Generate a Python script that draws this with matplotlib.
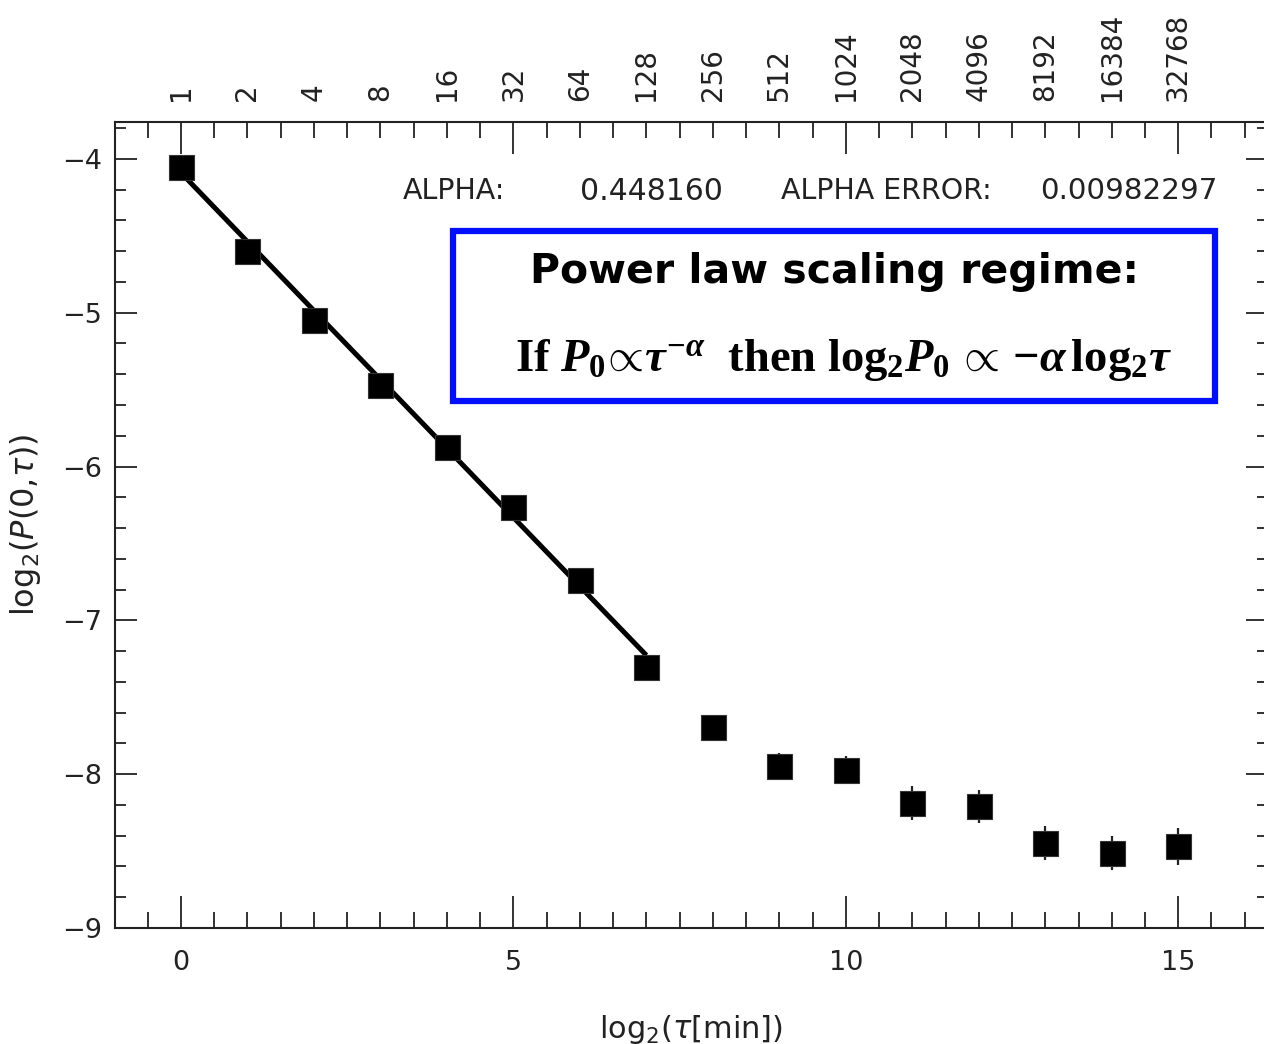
import numpy as np
import matplotlib
matplotlib.use("Agg")
import matplotlib.pyplot as plt
from matplotlib.patches import Rectangle
from matplotlib.ticker import MultipleLocator, FixedLocator

# ---- data ----
log2_tau = [0, 1, 2, 3, 4, 5, 6, 7, 8, 9, 10, 11, 12, 13, 14, 15]
log2_P = [-4.05, -4.60, -5.05, -5.47, -5.87, -6.26, -6.74, -7.30,
          -7.69, -7.95, -7.97, -8.19, -8.21, -8.45, -8.51, -8.47]
log2_P_err = [0.02, 0.02, 0.02, 0.03, 0.03, 0.03, 0.04, 0.05,
              0.07, 0.09, 0.09, 0.11, 0.11, 0.11, 0.11, 0.12]
fit_range = [0, 7]
alpha = 0.448160
alpha_err = 0.00982297
fit_intercept = -4.09
top_labels = [str(2 ** i) for i in log2_tau]

plt.rcParams['mathtext.rm'] = 'Liberation Serif:bold'
plt.rcParams['mathtext.it'] = 'Liberation Serif:bold:italic'
plt.rcParams['mathtext.bf'] = 'Liberation Serif:bold'

W, H = 1264, 1044
fig = plt.figure(figsize=(W / 100, H / 100), dpi=100)
left_px, right_px, top_px, bot_px = 114.5, 1268, 122, 928
ax = fig.add_axes([left_px / W, 1 - bot_px / H, (right_px - left_px) / W, (bot_px - top_px) / H])

ink = '#222222'

# fit line
xf = np.array(fit_range, dtype=float)
ax.plot(xf, fit_intercept - alpha * xf, color='black', lw=3.6, solid_capstyle='butt', zorder=2)

# data points
ax.errorbar(log2_tau, log2_P, yerr=log2_P_err, fmt='s', color='black', ms=18,
            mec='#333333', mew=0.8, ecolor='#222222', elinewidth=1.6, capsize=0, zorder=3)

ax.set_xlim(-1, 16.35)
ax.set_ylim(-9, -3.76)

ax.xaxis.set_major_locator(MultipleLocator(5))
ax.xaxis.set_minor_locator(MultipleLocator(0.5))
ax.yaxis.set_major_locator(MultipleLocator(1))
ax.yaxis.set_minor_locator(MultipleLocator(0.2))

ax.tick_params(axis='x', which='major', direction='in', top=True, bottom=True,
               length=23, width=1.3, color=ink, labelsize=19.5, labelcolor=ink, pad=16)
ax.tick_params(axis='x', which='minor', direction='in', top=True, bottom=True,
               length=11.5, width=1.3, color=ink)
ax.tick_params(axis='y', which='major', direction='in', left=True, right=True,
               length=16, width=1.3, color=ink, labelsize=19.5, labelcolor=ink, pad=9)
ax.tick_params(axis='y', which='minor', direction='in', left=True, right=True,
               length=8, width=1.3, color=ink)
for s in ax.spines.values():
    s.set_linewidth(1.5)
    s.set_color(ink)

ax.set_yticks([-9, -8, -7, -6, -5, -4])
ax.set_yticklabels(['\u22129', '\u22128', '\u22127', '\u22126', '\u22125', '\u22124'])

# top axis labels
sec = ax.secondary_xaxis('top')
sec.xaxis.set_major_locator(FixedLocator(log2_tau))
sec.set_xticklabels(top_labels, rotation=90)
sec.tick_params(axis='x', length=0, labelsize=20, labelcolor=ink, pad=15)
sec.spines['top'].set_visible(False)

ax.set_xlabel(r'log$_2$($\tau$[min])', fontsize=22, color=ink)
ax.set_ylabel(r'log$_2$($P$(0,$\tau$))', fontsize=23, color=ink)
ax.yaxis.set_label_coords(-0.062, 0.50)
ax.xaxis.set_label_coords(0.5, -0.105)

# fit annotation
ty = -4.21
ax.text(3.34, ty, 'ALPHA:', fontsize=20.5, color=ink, ha='left', va='center')
ax.text(6.0, ty, f'{alpha:.6f}', fontsize=21.5, color=ink, ha='left', va='center')
ax.text(9.02, ty, 'ALPHA ERROR:', fontsize=20.5, color=ink, ha='left', va='center')
ax.text(12.93, ty, f'{alpha_err:.8f}', fontsize=21.2, color=ink, ha='left', va='center')

# blue box
bx0, bx1 = (453 - 181) / 66.47, (1215 - 181) / 66.47
by_top, by_bot = -4 - (231 - 159) / 153.6, -4 - (401 - 159) / 153.6
ax.add_patch(Rectangle((bx0, by_bot), bx1 - bx0, by_top - by_bot, fill=False,
                       edgecolor='#0010ff', lw=4.5, zorder=4))
ax.text((834 - 181) / 66.47, -4 - (272 - 159) / 153.6, 'Power law scaling regime:',
        fontsize=29.5, fontweight='heavy', family='DejaVu Sans', color='black',
        ha='center', va='center', zorder=5)
ax.text((843 - 181) / 66.47, -4 - (360 - 159) / 153.6,
        r'If $P_0\!\propto\!\tau^{-\alpha}$  then log$_2P_0\,\propto\,{-}\alpha\,$log$_2\tau$',
        fontsize=33.5, fontweight='bold', family='Liberation Serif', math_fontfamily='custom',
        color='black', ha='center', va='center', zorder=5)

fig.savefig('out.png', dpi=100)
